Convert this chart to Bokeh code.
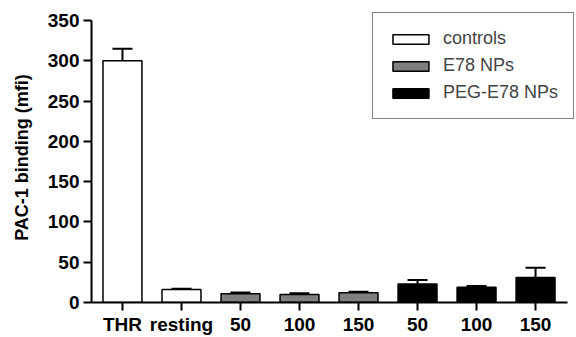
from bokeh.plotting import figure
from bokeh.models import Range1d, FixedTicker, Whisker, ColumnDataSource, TeeHead, Legend
from bokeh.embed import file_html
from bokeh.resources import INLINE

labels = ["THR", "resting", "50", "100", "150", "50", "100", "150"]
groups = ["controls", "controls", "E78 NPs", "E78 NPs", "E78 NPs", "PEG-E78 NPs", "PEG-E78 NPs", "PEG-E78 NPs"]
values = [300, 16, 11, 10, 12, 23, 19, 31]
errors = [15, 1, 1.5, 1.5, 1.5, 5, 1.5, 12]
group_colors = {"controls": "#ffffff", "E78 NPs": "#7f7f7f", "PEG-E78 NPs": "#000000"}
y_ticks = [0, 50, 100, 150, 200, 250, 300, 350]

FONT = "Liberation Sans"

p = figure(width=576, height=337, output_backend="svg", toolbar_location=None,
           x_range=Range1d(-0.525, 7.66), y_range=Range1d(0, 360),
           min_border_left=91, min_border_right=2, min_border_top=12, min_border_bottom=34)
p.grid.visible = False
p.outline_line_color = None

xs = list(range(len(labels)))
legend_items = []
for g in ["controls", "E78 NPs", "PEG-E78 NPs"]:
    idx = [i for i in xs if groups[i] == g]
    src = ColumnDataSource(dict(x=[xs[i] for i in idx], top=[values[i] for i in idx]))
    r = p.vbar(x="x", top="top", width=0.66, bottom=0, source=src,
               fill_color=group_colors[g], line_color="black", line_width=1.5)
    legend_items.append((g, [r]))

esrc = ColumnDataSource(dict(x=xs, base=values, upper=[v + e for v, e in zip(values, errors)]))
p.segment(x0="x", y0="base", x1="x", y1="upper", source=esrc, line_color="black", line_width=2)
w = Whisker(base="x", upper="upper", lower="base", dimension="height", source=esrc,
            upper_head=TeeHead(size=20, line_width=2, line_color="black"), lower_head=None,
            line_color="black", line_width=0, line_alpha=0)
p.add_layout(w)

legend = Legend(items=legend_items, location="top_right", margin=0, padding=15,
                spacing=6, glyph_width=45, glyph_height=12, label_height=21,
                label_standoff=10, border_line_color="black", border_line_width=1,
                label_text_font=FONT, label_text_font_size="18px",
                background_fill_color="white", background_fill_alpha=1)
p.add_layout(legend)

for ax in (p.xaxis[0], p.yaxis[0]):
    ax.axis_line_width = 2
    ax.axis_line_color = "black"
    ax.major_tick_line_width = 2
    ax.major_tick_in = 0
    ax.major_tick_out = 8
    ax.minor_tick_line_color = None
    ax.major_label_text_font = FONT
    ax.major_label_text_font_style = "bold"
    ax.major_label_text_font_size = "19px"
    ax.major_label_text_color = "black"

p.yaxis.ticker = FixedTicker(ticks=y_ticks)
p.yaxis.bounds = (0, 350)
p.yaxis.major_label_standoff = 4
p.yaxis.axis_label = "PAC-1 binding (mfi)"
p.yaxis.axis_label_text_font = FONT
p.yaxis.axis_label_text_font_style = "bold"
p.yaxis.axis_label_text_font_size = "18px"
p.yaxis.axis_label_text_color = "black"
p.yaxis.axis_label_standoff = 13

p.xaxis.ticker = FixedTicker(ticks=xs)
p.xaxis.bounds = (-0.525, 7.54)
p.xaxis.major_label_overrides = {i: labels[i] for i in xs}
p.xaxis.major_label_standoff = 3

open("out.html", "w").write(file_html(p, INLINE))
